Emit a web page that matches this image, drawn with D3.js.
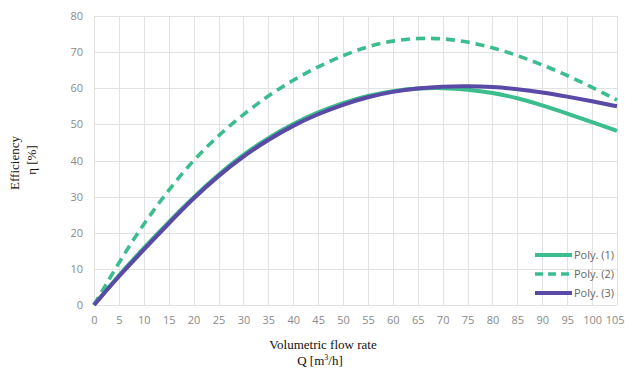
<!DOCTYPE html>
<html>
<head>
<meta charset="utf-8">
<script src="https://cdn.jsdelivr.net/npm/d3@7"></script>
<style>
  html, body { margin: 0; padding: 0; background: #fff; }
</style>
</head>
<body>
<div id="chart"></div>
<script>
// ─── Data ───────────────────────────────────────────────────────
const flow = [0, 5, 10, 15, 20, 25, 30, 35, 40, 45, 50, 55, 60, 65, 70, 75, 80, 85, 90, 95, 100, 105];
const poly1 = [0, 8.3, 15.8, 23.0, 29.9, 36.2, 41.7, 46.3, 50.2, 53.4, 56.0, 58.0, 59.3, 60.0, 60.1, 59.7, 58.8, 57.3, 55.3, 53.0, 50.6, 48.2];
const poly2 = [0, 11.8, 22.6, 31.9, 40.2, 47.0, 52.8, 58.0, 62.3, 66.0, 69.1, 71.6, 73.2, 73.9, 73.8, 72.9, 71.3, 69.1, 66.5, 63.6, 60.3, 56.7];
const poly3 = [0, 8.0, 15.3, 22.6, 29.6, 35.8, 41.2, 45.8, 49.7, 52.9, 55.5, 57.6, 59.1, 60.0, 60.5, 60.6, 60.4, 59.8, 58.9, 57.7, 56.4, 55.0];

const xTicks = d3.range(0, 106, 5);
const yTicks = d3.range(0, 81, 10);
const seriesNames = ["Poly. (1)", "Poly. (2)", "Poly. (3)"];

// ─── Layout ──────────────────────────────────────────────────────
const W = 625, H = 369;
const m = { top: 16, right: 8, bottom: 64, left: 94 };

const svg = d3.select("#chart").append("svg")
  .attr("width", W).attr("height", H)
  .style("display", "block");

const x = d3.scaleLinear().domain([0, 105]).range([m.left, W - m.right]);
const y = d3.scaleLinear().domain([0, 80]).range([H - m.bottom, m.top]);

// ─── Grid ────────────────────────────────────────────────────────
const grid = svg.append("g").attr("stroke", "#e2e2e2").attr("stroke-width", 1);
grid.selectAll("line.v").data(xTicks).join("line")
  .attr("class", "v")
  .attr("x1", d => Math.round(x(d)) + 0.5).attr("x2", d => Math.round(x(d)) + 0.5)
  .attr("y1", y(80)).attr("y2", y(0));
grid.selectAll("line.h").data(yTicks).join("line")
  .attr("class", "h")
  .attr("y1", d => Math.round(y(d)) + 0.5).attr("y2", d => Math.round(y(d)) + 0.5)
  .attr("x1", x(0)).attr("x2", x(105));

// ─── Axes (labels only) ──────────────────────────────────────────
const xAxis = svg.append("g")
  .attr("transform", `translate(0,${y(0)})`)
  .call(d3.axisBottom(x).tickValues(xTicks).tickSize(0).tickPadding(11));
const yAxis = svg.append("g")
  .attr("transform", `translate(${x(0)},0)`)
  .call(d3.axisLeft(y).tickValues(yTicks).tickSize(0).tickPadding(11));
[xAxis, yAxis].forEach(a => {
  a.select(".domain").remove();
  a.selectAll("text")
    .attr("fill", "#8a8a8a")
    .style("font-family", "'Open Sans', 'Noto Sans', sans-serif")
    .style("font-size", "11px");
});
// last label sits against the right edge, as in the original
xAxis.selectAll(".tick").filter(d => d === 105).select("text")
  .attr("text-anchor", "end")
  .attr("x", W - 1 - x(105));

// ─── Curves ──────────────────────────────────────────────────────
const green = "#3bbd8d", purple = "#5a49a7";
const series = [
  { name: seriesNames[0], values: poly1, color: green,  dash: null },
  { name: seriesNames[1], values: poly2, color: green,  dash: "9,6" },
  { name: seriesNames[2], values: poly3, color: purple, dash: null }
];

const line = d3.line()
  .x((d, i) => x(flow[i]))
  .y(d => y(d))
  .curve(d3.curveBasis);

svg.append("g").selectAll("path")
  .data(series)
  .join("path")
  .attr("d", d => line(d.values))
  .attr("fill", "none")
  .attr("stroke", d => d.color)
  .attr("stroke-width", d => d.dash ? 3.6 : 4)
  .attr("stroke-dasharray", d => d.dash);

// ─── Legend ──────────────────────────────────────────────────────
const legend = svg.append("g").attr("transform", "translate(535,255)");
legend.selectAll("g")
  .data(series)
  .join("g")
  .attr("transform", (_, i) => `translate(0,${i * 19})`)
  .call(gL => {
    gL.append("line")
      .attr("x1", 0).attr("x2", 37)
      .attr("stroke", d => d.color)
      .attr("stroke-width", d => d.dash ? 3.6 : 4)
      .attr("stroke-dasharray", d => d.dash ? "8,5" : null);
    gL.append("text")
      .attr("x", 39).attr("y", 4)
      .attr("fill", "#666")
      .style("font-family", "'Open Sans', 'Noto Sans', sans-serif")
      .style("font-size", "11px")
      .text(d => d.name);
  });

// ─── Axis titles ────────────────────────────────────────────────
const serif = "'Liberation Serif', 'DejaVu Serif', serif";
svg.append("text")
  .attr("x", 323).attr("y", 349)
  .attr("text-anchor", "middle")
  .attr("fill", "#111")
  .style("font-family", serif).style("font-size", "13px")
  .text("Volumetric flow rate");
const q = svg.append("text")
  .attr("x", 320).attr("y", 365)
  .attr("text-anchor", "middle")
  .attr("fill", "#111")
  .style("font-family", serif).style("font-size", "13px");
q.append("tspan").text("Q [m");
q.append("tspan").attr("dy", -5).style("font-size", "8px").text("3");
q.append("tspan").attr("dy", 5).text("/h]");

svg.append("text")
  .attr("transform", "translate(19,163) rotate(-90)")
  .attr("text-anchor", "middle")
  .attr("fill", "#111")
  .style("font-family", serif).style("font-size", "13px")
  .text("Efficiency");
svg.append("text")
  .attr("transform", "translate(36,160) rotate(-90)")
  .attr("text-anchor", "middle")
  .attr("fill", "#111")
  .style("font-family", serif).style("font-size", "13px")
  .text("η [%]");
</script>
</body>
</html>
